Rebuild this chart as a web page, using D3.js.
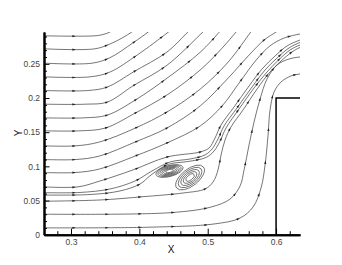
<!DOCTYPE html>
<html>
<head>
<meta charset="utf-8">
<style>
body{margin:0;background:#fff;}
.axis text{font-family:"Liberation Sans",Arial,sans-serif;font-size:8.5px;fill:#444;}
.axis path.domain{stroke:#000;stroke-width:2;fill:none;}
.axis line{stroke:#000;stroke-width:1;}
.title{font-family:"Liberation Sans",Arial,sans-serif;font-size:10px;fill:#111;}
</style>
</head>
<body>
<script src="https://cdn.jsdelivr.net/npm/d3@7/dist/d3.min.js"></script>
<script>
// axis ranges and ticks
var xDomain = [0.2605, 0.635];
var yDomain = [0, 0.2966];
var xTicks = [0.3, 0.4, 0.5, 0.6];
var yTicks = [0, 0.05, 0.1, 0.15, 0.2, 0.25];
var xMinor = [0.28,0.32,0.34,0.36,0.38,0.42,0.44,0.46,0.48,0.52,0.54,0.56,0.58,0.62];
var yMinor = [0.01,0.02,0.03,0.04,0.06,0.07,0.08,0.09,0.11,0.12,0.13,0.14,0.16,0.17,0.18,0.19,0.21,0.22,0.23,0.24,0.26,0.27,0.28,0.29];

// step wall outline
var step = [[0.6,0],[0.6,0.2],[0.642,0.2]];

// streamlines (x, y)
var s291 = [[0.2605,0.291],[0.335,0.291],[0.347,0.293],[0.357,0.2966],[0.364,0.3025]];
var s272 = [[0.2605,0.272],[0.335,0.272],[0.357,0.279],[0.375,0.288],[0.389,0.2966],[0.397,0.3025]];
var s251 = [[0.2605,0.251],[0.331,0.251],[0.357,0.259],[0.391,0.281],[0.413,0.2966],[0.420,0.3025]];
var s231 = [[0.2605,0.231],[0.328,0.231],[0.357,0.238],[0.397,0.263],[0.4405,0.295],[0.448,0.301]];
var s211 = [[0.2605,0.211],[0.325,0.211],[0.353,0.216],[0.391,0.238],[0.4405,0.2674],[0.471,0.2966],[0.479,0.304]];
var s191 = [[0.2605,0.191],[0.322,0.191],[0.353,0.194],[0.391,0.218],[0.4405,0.248],[0.493,0.2966],[0.500,0.303]];
var s171 = [[0.2605,0.171],[0.319,0.171],[0.353,0.175],[0.394,0.197],[0.4405,0.229],[0.489,0.267],[0.517,0.2966],[0.522,0.303]];
var s152 = [[0.2605,0.152],[0.313,0.152],[0.350,0.156],[0.394,0.178],[0.4405,0.2045],[0.489,0.241],[0.521,0.273],[0.5415,0.2966],[0.547,0.303]];
var s130 = [[0.2605,0.130],[0.307,0.130],[0.342,0.1357],[0.394,0.156],[0.4405,0.1796],[0.489,0.213],[0.530,0.2527],[0.563,0.2966],[0.568,0.303]];
var s110 = [[0.2605,0.110],[0.307,0.110],[0.342,0.1152],[0.394,0.1357],[0.4405,0.1562],[0.489,0.1884],[0.530,0.2293],[0.562,0.2645],[0.5825,0.2849],[0.600,0.2966],[0.608,0.302]];
var s091 = [[0.2605,0.091],[0.307,0.091],[0.342,0.0962],[0.394,0.1152],[0.4405,0.1343],[0.489,0.1591],[0.521,0.1883],[0.547,0.2235],[0.571,0.2557],[0.591,0.2762],[0.612,0.2879],[0.635,0.2937],[0.642,0.295]];
var s070 = [[0.2605,0.070],[0.3102,0.070],[0.3424,0.0786],[0.3907,0.0948],[0.4405,0.1137],[0.4888,0.1210],[0.5020,0.1269],[0.5107,0.1415],[0.5195,0.1606],[0.5385,0.1869],[0.5605,0.2176],[0.5795,0.2425],[0.5985,0.2615],[0.6161,0.2762],[0.6351,0.2849],[0.6424,0.2871]];
var s0615 = [[0.2605,0.0615],[0.3132,0.0618],[0.3571,0.0669],[0.3937,0.0786],[0.4185,0.0932],[0.4449,0.1064],[0.4742,0.1108],[0.4961,0.1167],[0.5063,0.1254],[0.5151,0.1401],[0.5239,0.1591],[0.5429,0.1855],[0.5649,0.2162],[0.5839,0.2410],[0.6015,0.2586],[0.6190,0.2733],[0.6351,0.2813],[0.6424,0.2835]];
var s058 = [[0.2605,0.058],[0.3278,0.0588],[0.3717,0.0640],[0.4010,0.0742],[0.4171,0.0874],[0.4420,0.1028],[0.4712,0.1071],[0.4976,0.1130],[0.5093,0.1225],[0.5181,0.1371],[0.5268,0.1562],[0.5459,0.1840],[0.5678,0.2147],[0.5868,0.2381],[0.6044,0.2564],[0.6205,0.2703],[0.6351,0.2776],[0.6424,0.2791]];
var s049 = [[0.2605,0.049],[0.3424,0.0508],[0.4054,0.0556],[0.4639,0.0610],[0.4961,0.0669],[0.5078,0.0771],[0.5151,0.0948],[0.5195,0.1167],[0.5254,0.1387],[0.5341,0.1577],[0.5517,0.1826],[0.5722,0.2132],[0.5898,0.2366],[0.6073,0.2542],[0.6234,0.2674],[0.6351,0.2740],[0.6424,0.2755]];
var s030 = [[0.2605,0.030],[0.4449,0.0322],[0.5049,0.0405],[0.5327,0.0522],[0.5473,0.0713],[0.5532,0.0948],[0.5605,0.1314],[0.5678,0.1650],[0.5766,0.1986],[0.5868,0.2279],[0.6015,0.2484],[0.6190,0.2571],[0.6351,0.2601],[0.6424,0.2608]];
var s010 = [[0.2605,0.010],[0.4156,0.0110],[0.5093,0.0157],[0.5473,0.0244],[0.5663,0.0405],[0.5780,0.0683],[0.5839,0.1021],[0.5883,0.1460],[0.5912,0.1826],[0.5971,0.2088],[0.6073,0.2235],[0.6220,0.2323],[0.6351,0.2352],[0.6424,0.2360]];
var streamlines = [s291,s272,s251,s231,s211,s191,s171,s152,s130,s110,s091,s070,s0615,s058,s049,s030,s010];

// recirculation eddies: centre, ring radii (x and y), tilt in degrees
var eddyLeftCentre = [0.4441, 0.0932];
var eddyLeftRx = [0.0205,0.0176,0.0146,0.0117,0.0088,0.0059];
var eddyLeftRy = [0.0080,0.0069,0.0057,0.0045,0.0034,0.0022];
var eddyLeftTilt = -15;
var eddyRightCentre = [0.4742, 0.0837];
var eddyRightRx = [0.0249,0.0205,0.0161,0.0117,0.0073];
var eddyRightRy = [0.0124,0.0102,0.0080,0.0059,0.0037];
var eddyRightTilt = -38;

var width = 342, height = 265;
var plotLeft = 44, plotRight = 300, plotTop = 32, plotBottom = 234.7;

var svg = d3.select("body").append("svg")
  .attr("width", width).attr("height", height);

var x = d3.scaleLinear().domain(xDomain).range([plotLeft, plotRight]);
var y = d3.scaleLinear().domain(yDomain).range([plotBottom, plotTop]);

svg.append("defs").append("clipPath").attr("id", "plot")
  .append("rect").attr("x", plotLeft).attr("y", plotTop)
  .attr("width", plotRight - plotLeft).attr("height", plotBottom - plotTop);

var plot = svg.append("g").attr("clip-path", "url(#plot)");

var line = d3.line()
  .x(function(d){ return x(d[0]); })
  .y(function(d){ return y(d[1]); })
  .curve(d3.curveCatmullRom.alpha(0.5));

var paths = plot.selectAll("path.sl")
  .data(streamlines)
  .enter().append("path")
  .attr("class", "sl")
  .attr("d", line)
  .attr("fill", "none")
  .attr("stroke", "#3a3a3a")
  .attr("stroke-width", 0.7);

// arrow heads along each streamline
paths.each(function(){
  var L = this.getTotalLength();
  for (var s = 30; s < L - 2; s += 33) {
    var p = this.getPointAtLength(s), q = this.getPointAtLength(s + 1);
    if (p.x > plotRight - 2 || p.y < plotTop + 2) continue;
    var a = Math.atan2(q.y - p.y, q.x - p.x) * 180 / Math.PI;
    plot.append("path")
      .attr("d", "M1.7,0L-1.6,-1.1L-1.6,1.1Z")
      .attr("transform", "translate(" + p.x + "," + p.y + ") rotate(" + a + ")")
      .attr("fill", "#222");
  }
});

function eddy(centre, rxs, rys, tilt) {
  var cx = x(centre[0]), cy = y(centre[1]);
  plot.selectAll(null)
    .data(rxs)
    .enter().append("ellipse")
    .attr("cx", cx).attr("cy", cy)
    .attr("rx", function(d){ return x(centre[0] + d) - cx; })
    .attr("ry", function(d, i){ return y(0) - y(rys[i]); })
    .attr("transform", "rotate(" + tilt + "," + cx + "," + cy + ")")
    .attr("fill", "none")
    .attr("stroke", "#3a3a3a")
    .attr("stroke-width", 0.65);
}
eddy(eddyLeftCentre, eddyLeftRx, eddyLeftRy, eddyLeftTilt);
eddy(eddyRightCentre, eddyRightRx, eddyRightRy, eddyRightTilt);

// step wall
plot.append("path")
  .attr("d", d3.line().x(function(d){ return x(d[0]); }).y(function(d){ return y(d[1]); })(step))
  .attr("fill", "none")
  .attr("stroke", "#000")
  .attr("stroke-width", 1.5);

// axes, ticks pointing inward
svg.append("g").attr("class", "axis")
  .attr("transform", "translate(0," + plotBottom + ")")
  .call(d3.axisBottom(x).tickValues(xMinor).tickSizeInner(-3.5).tickSizeOuter(0).tickFormat(""));
svg.append("g").attr("class", "axis")
  .attr("transform", "translate(0," + plotBottom + ")")
  .call(d3.axisBottom(x).tickValues(xTicks).tickSizeInner(-6).tickSizeOuter(0).tickPadding(4).tickFormat(d3.format("")));
svg.append("g").attr("class", "axis")
  .attr("transform", "translate(" + plotLeft + ",0)")
  .call(d3.axisLeft(y).tickValues(yMinor).tickSizeInner(-3).tickSizeOuter(0).tickFormat(""));
svg.append("g").attr("class", "axis")
  .attr("transform", "translate(" + plotLeft + ",0)")
  .call(d3.axisLeft(y).tickValues(yTicks).tickSizeInner(-5.5).tickSizeOuter(0).tickPadding(4).tickFormat(d3.format("")));

svg.append("text").attr("class", "title")
  .attr("x", 171).attr("y", 252.5)
  .attr("text-anchor", "middle")
  .text("X");
svg.append("text").attr("class", "title")
  .attr("transform", "translate(22,133) rotate(-90)")
  .attr("text-anchor", "middle")
  .text("Y");
</script>
</body>
</html>
